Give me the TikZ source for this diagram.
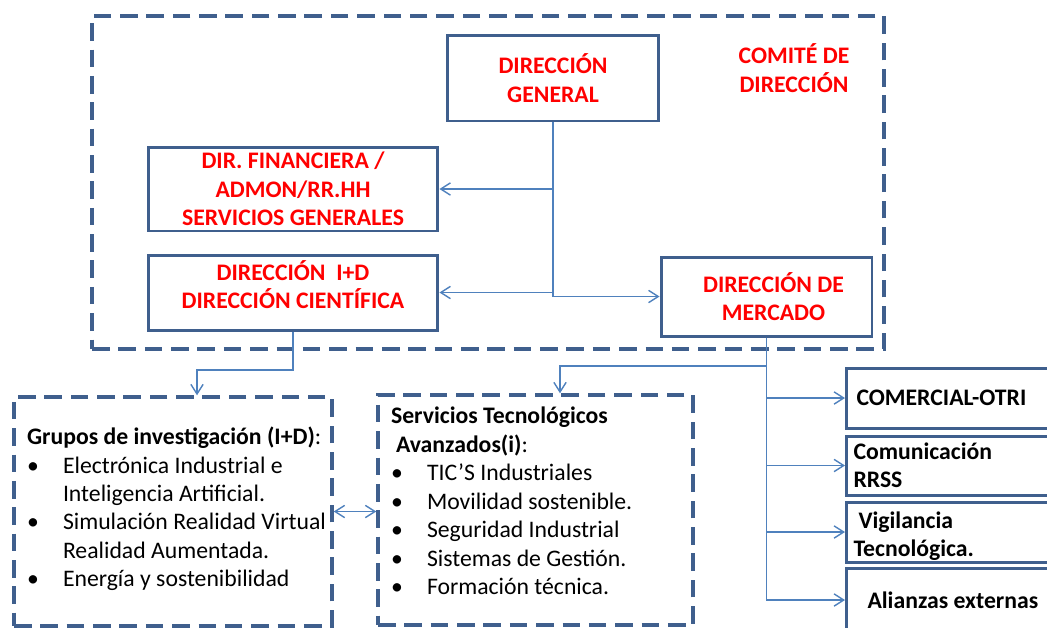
\documentclass[tikz,border=0pt]{standalone}
\usepackage{fontspec}
\setmainfont{Carlito}
\usetikzlibrary{arrows.meta}
\definecolor{boxblue}{HTML}{3F5F8D}
\definecolor{lineblue}{HTML}{4F81BD}
\newcommand{\itm}[1]{\makebox[0.72cm][l]{\textbullet}\mbox{#1}}

\begin{document}
\begin{tikzpicture}[x=0.02cm, y=-0.02cm,
    every node/.style={font=\fontsize{13.5}{16.2}\selectfont},
    dir/.style={draw=boxblue, line width=1.7pt, text=red, font=\bfseries\fontsize{13.5}{16.2}\selectfont, align=center, inner ysep=0pt},
    grp/.style={draw=boxblue, line width=2pt, dash pattern=on 10pt off 5pt, align=flush left, inner xsep=0.26cm},
    area/.style={draw=boxblue, line width=1.7pt, anchor=west, align=flush left, font=\bfseries\fontsize{13.5}{16.2}\selectfont, text width=4.22cm, inner xsep=0.14cm, inner ysep=1pt},
    link/.style={draw=lineblue, line width=0.8pt},
    >={Straight Barb[length=5.5pt,width=7pt]}]
            \clip (0,0) rectangle (1047,627);

            \node[grp, minimum width=15.84cm, minimum height=6.66cm] (CD) at (488,182.5) {};
            \node[text=red, font=\bfseries\fontsize{13.5}{16.2}\selectfont, align=center] (CDt) at (794,68) {COMITÉ DE\\DIRECCIÓN};
            \node[dir, minimum width=4.24cm, minimum height=1.72cm] (DG) at (553,78) {DIRECCIÓN\\GENERAL};
            \node[dir, minimum width=5.8cm, minimum height=1.68cm] (DF) at (293,189) {DIR. FINANCIERA /\\ADMON/RR.HH\\SERVICIOS GENERALES};
            \node[dir, minimum width=5.8cm, minimum height=1.5cm, text depth=9pt] (DID) at (293,292.5) {DIRECCIÓN~~I+D\\DIRECCIÓN CIENTÍFICA};
            \node[dir, minimum width=4.22cm, minimum height=1.58cm] (DM) at (766.5,296.5) {\hspace{0.28cm}DIRECCIÓN DE\\\hspace{0.28cm}MERCADO};

            \node[grp, minimum height=4.58cm, text width=5.84cm] (GI) at (173,511.5) {\mbox{\textbf{Grupos de investigación (I+D)}:}\\\itm{Electrónica Industrial e}\\\hspace{0.72cm}Inteligencia Artificial.\\\itm{Simulación Realidad Virtual}\\\hspace{0.72cm}Realidad Aumentada.\\\itm{Energía y sostenibilidad}\\[-11pt]\mbox{}};
            \node[grp, minimum height=4.6cm, text width=5.78cm] (ST) at (535.5,510) {\textbf{Servicios Tecnológicos}\\\hspace{0.1cm}\textbf{Avanzados(i)}:\\\itm{TIC’S Industriales}\\\itm{Movilidad sostenible.}\\\itm{Seguridad Industrial}\\\itm{Sistemas de Gestión.}\\\itm{Formación técnica.}\\[-6pt]\mbox{}};

            \node[area, minimum height=1.2cm] (CO) at (845,398) {\hspace{0.06cm}COMERCIAL-OTRI};
            \node[area, minimum height=1.18cm] (CR) at (845,465.5) {Comunicación\\RRSS};
            \node[area, minimum height=1.2cm, text height=12pt, text depth=16.2pt] (VT) at (845,532) {\hspace{0.1cm}Vigilancia\\Tecnológica.};
            \node[area, minimum height=1.28cm] (AE) at (845,600) {\hspace{0.28cm}Alianzas externas};

            \coordinate (GIin) at (197,370);
            \coordinate (STin) at (560,366);

            \draw[link, ->] (DG) |- (DF);
            \draw[link, ->] (DG) |- (DID);
            \draw[link, ->] (DG) |- (DM);
            \draw[link, ->] (DID) |- (GIin) -- (GIin |- GI.north);
            \draw[link, ->] (DM) |- (STin) -- (STin |- ST.north);
            \foreach \n in {CO,CR,VT,AE}
              \draw[link, ->] (DM) |- (\n);
            \draw[link, <->] (GI.east) -- (GI.east -| ST.west);
          \end{tikzpicture}
\end{document}
